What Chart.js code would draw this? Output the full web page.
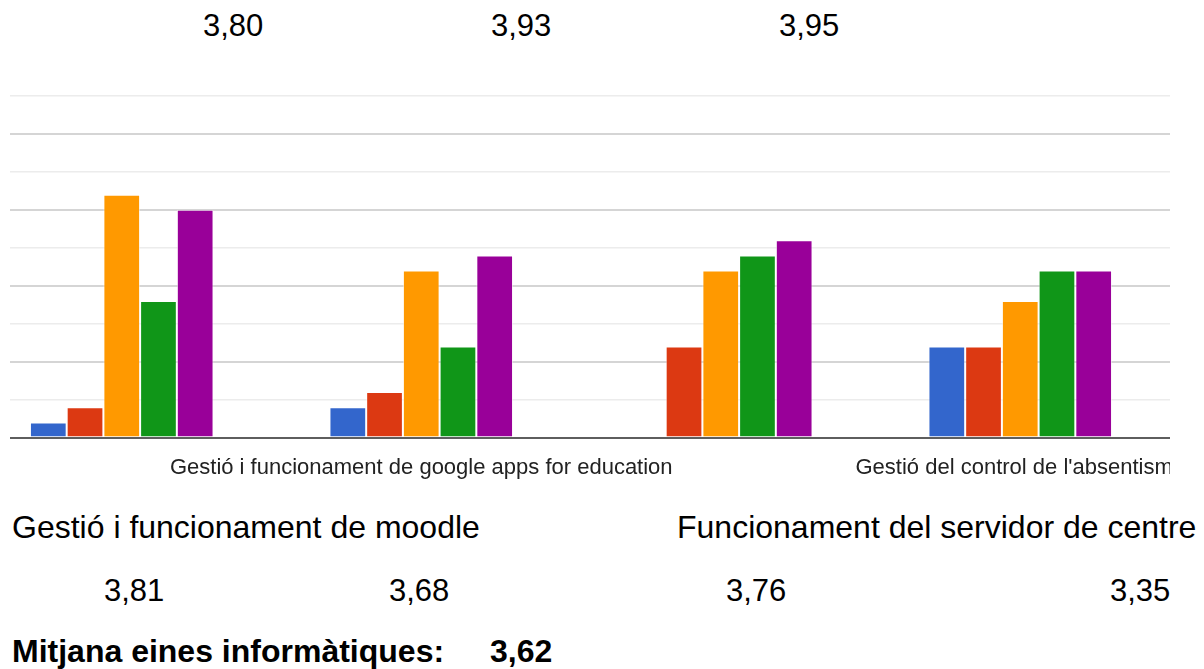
<!DOCTYPE html>
<html lang="ca">
<head>
<meta charset="utf-8">
<title>Eines informàtiques</title>
<script src="https://cdn.jsdelivr.net/npm/chart.js@4.4.1/dist/chart.umd.min.js"></script>
<style>
  html, body { margin: 0; padding: 0; background: #fff; }
  body {
    width: 1204px; height: 669px; position: relative; overflow: hidden;
    font-family: Arial, "Liberation Sans", sans-serif; color: #000;
  }
  .txt { position: absolute; white-space: nowrap; line-height: 1; }
  .num { font-size: 31px; }
  .nom { font-size: 32px; }
  .fort { font-size: 32px; font-weight: bold; }
  /* the plot is wider than its box: the box cuts it at both sides */
  #grafic { position: absolute; left: 10px; top: 80px; width: 1161px; height: 418px; overflow: hidden; }
  #grafic canvas { position: absolute; left: -38px; top: 0; }
</style>
</head>
<body>

<div class="txt num mitjana-top" style="left:203px; top:10px;"></div>
<div class="txt num mitjana-top" style="left:491px; top:10px;"></div>
<div class="txt num mitjana-top" style="left:779px; top:10px;"></div>

<div id="grafic"><canvas id="barres" width="1198" height="418"></canvas></div>

<div class="txt nom" id="nom-0" style="left:12px; top:511px;"></div>
<div class="txt nom" id="nom-2" style="left:677px; top:511px;"></div>

<div class="txt num mitjana-cat" style="left:104px; top:575px;"></div>
<div class="txt num mitjana-cat" style="left:389px; top:575px;"></div>
<div class="txt num mitjana-cat" style="left:726px; top:575px;"></div>
<div class="txt num mitjana-cat" style="left:1110px; top:575px;"></div>

<div class="txt fort" style="left:12px; top:635px;">Mitjana eines informàtiques:</div>
<div class="txt fort" id="mitjana-general" style="left:490px; top:635px;"></div>

<script>
// --- DADES ---
const categories = [
    'Gestió i funcionament de moodle',
    'Gestió i funcionament de google apps for education',
    'Funcionament del servidor de centre',
    "Gestió del control de l'absentisme"
];
const puntuacions = ['1', '2', '3', '4', '5'];

// respostes per puntuació (1 a 5) a cada eina
const resp1 = [1, 2, 0, 6];
const resp2 = [2, 3, 6, 6];
const resp3 = [16, 11, 11, 9];
const resp4 = [9, 6, 12, 11];
const resp5 = [15, 12, 13, 11];

const colors = ['#3366cc', '#dc3912', '#ff9900', '#109618', '#990099'];

const eixMax = 22.5;
const eixPas = 2.5;

// mitjanes dels altres blocs i mitjana general
const mitjanesSuperiors = ['3,80', '3,93', '3,95'];
const mitjanaGeneral = '3,62';

// --- TEXTOS ---
const series = [resp1, resp2, resp3, resp4, resp5];
const ambComa = v => v.toFixed(2).replace('.', ',');

document.querySelectorAll('.mitjana-top').forEach((el, i) => {
    el.textContent = mitjanesSuperiors[i];
});
document.querySelectorAll('.mitjana-cat').forEach((el, i) => {
    let total = 0, suma = 0;
    series.forEach((s, p) => { total += s[i]; suma += s[i] * (p + 1); });
    el.textContent = ambComa(suma / total);
});
document.getElementById('nom-0').textContent = categories[0];
document.getElementById('nom-2').textContent = categories[2];
document.getElementById('mitjana-general').textContent = mitjanaGeneral;

// --- GRÀFIC ---
Chart.defaults.font.family = 'Arial, "Liberation Sans", sans-serif';

new Chart(document.getElementById('barres'), {
    type: 'bar',
    data: {
        labels: categories,
        datasets: series.map((s, i) => ({
            label: puntuacions[i],
            data: s,
            backgroundColor: colors[i],
            borderColor: 'rgba(255,255,255,0.55)',
            borderWidth: 1,
            barPercentage: 1.0,
            categoryPercentage: 0.613
        }))
    },
    options: {
        responsive: false,
        animation: false,
        layout: { padding: { top: 16, left: 0, right: 0, bottom: 0 } },
        plugins: { legend: { display: false }, tooltip: { enabled: false } },
        scales: {
            x: {
                grid: { display: false, drawTicks: false },
                border: { display: true, color: '#5e5e5e', width: 2, z: 1 },
                ticks: {
                    autoSkip: false,
                    maxRotation: 0,
                    minRotation: 0,
                    padding: 17,
                    color: '#222',
                    font: { size: 22 },
                    // només es mostren els noms de la 2a i 4a eina
                    callback: (v, i) => (i % 2 === 1 ? categories[i] : '')
                },
                afterFit: scale => { scale.paddingLeft = 0; scale.paddingRight = 0; }
            },
            y: {
                min: 0,
                max: eixMax,
                ticks: { display: false, stepSize: eixPas },
                border: { display: false },
                grid: {
                    drawTicks: false,
                    color: ctx => (ctx.tick && ctx.tick.value % 5 === 0 ? '#d5d5d5' : '#ececec'),
                    lineWidth: ctx => (ctx.tick && ctx.tick.value % 5 === 0 ? 2 : 1.5)
                }
            }
        }
    }
});
</script>
</body>
</html>
